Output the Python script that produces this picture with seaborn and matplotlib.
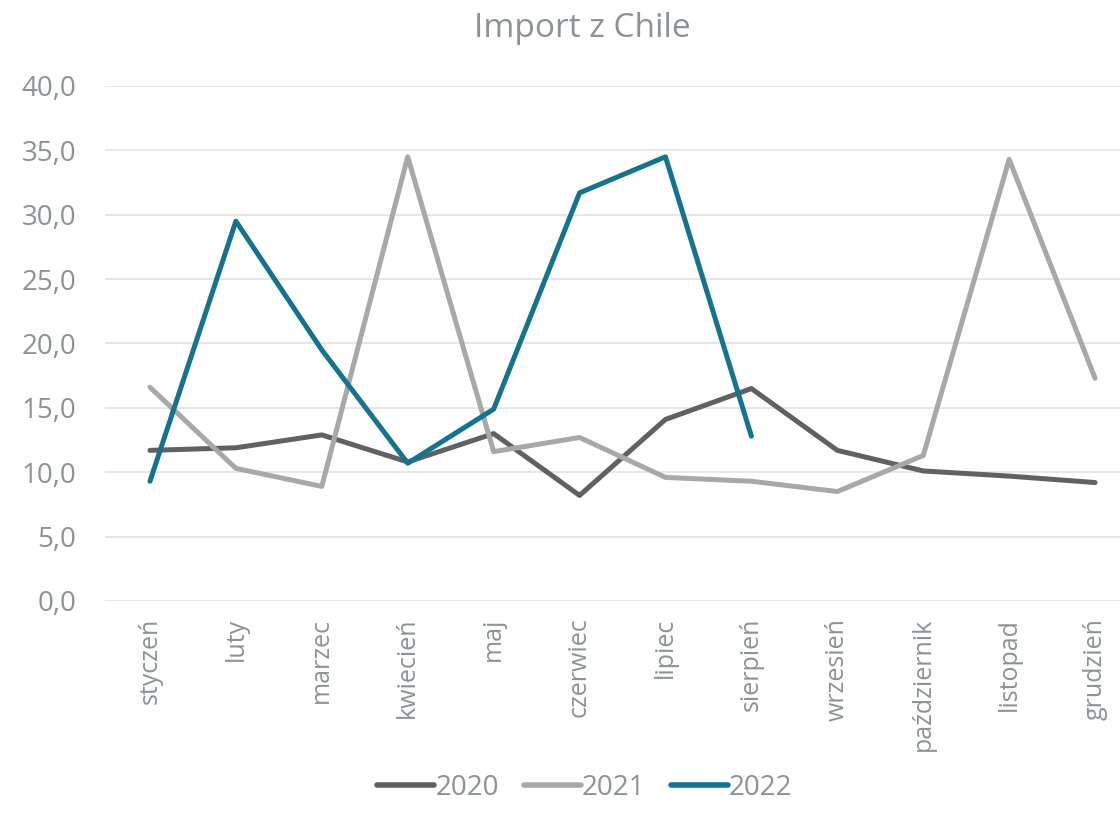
import matplotlib
matplotlib.use("Agg")
import matplotlib.pyplot as plt
import seaborn as sns
import pandas as pd

months = ["styczeń", "luty", "marzec", "kwiecień", "maj", "czerwiec", "lipiec",
          "sierpień", "wrzesień", "październik", "listopad", "grudzień"]
y2020 = [11.7, 11.9, 12.9, 10.8, 13.0, 8.2, 14.1, 16.5, 11.7, 10.1, 9.7, 9.2]
y2021 = [16.6, 10.3, 8.9, 34.5, 11.6, 12.7, 9.6, 9.3, 8.5, 11.3, 34.3, 17.3]
y2022 = [9.3, 29.5, 19.5, 10.7, 14.9, 31.7, 34.5, 12.8]

colors = {"2020": "#5f6264", "2021": "#a6a8aa", "2022": "#15738f"}
text_color = "#8c9396"

sns.set_style("white")
plt.rcParams["font.family"] = ["Open Sans", "DejaVu Sans"]

rows = []
for year, vals in [("2020", y2020), ("2021", y2021), ("2022", y2022)]:
    for i, v in enumerate(vals):
        rows.append({"pos": i, "value": v, "year": year})
df = pd.DataFrame(rows)

fig = plt.figure(figsize=(11.2, 8.26), dpi=100)
ax = fig.add_axes([0.094, 0.2724, 0.906, 0.6235])

sns.lineplot(data=df, x="pos", y="value", hue="year", palette=colors,
             linewidth=3.6, ax=ax, legend=False)

ax.set_ylim(0, 40)
ax.set_yticks(range(0, 41, 5))
ax.set_yticklabels([f"{v:.1f}".replace(".", ",") for v in range(0, 41, 5)])
ax.set_xlim(-0.52, 11.29)
ax.set_xticks(range(12))
ax.set_xticklabels(months, rotation=90)
ax.set_xlabel("")
ax.set_ylabel("")
ax.grid(axis="y", color="#e3e3e3", linewidth=1.2)
ax.set_axisbelow(True)
for s in ax.spines.values():
    s.set_visible(False)
ax.tick_params(axis="both", length=0, colors=text_color)
ax.tick_params(axis="x", pad=12, labelsize=18)
ax.tick_params(axis="y", pad=21, labelsize=20)

fig.text(0.52, 0.965, "Import z Chile", ha="center", va="center",
         fontsize=24, color=text_color)

handles = [plt.Line2D([], [], color=colors[k], linewidth=4, solid_capstyle="round")
           for k in colors]
fig.legend(handles, list(colors.keys()), loc="center", bbox_to_anchor=(0.522, 0.046),
           ncol=3, frameon=False, fontsize=20, labelcolor=text_color,
           handlelength=2.05, handletextpad=0.05, columnspacing=0.9)

fig.savefig("out.png", dpi=100)
